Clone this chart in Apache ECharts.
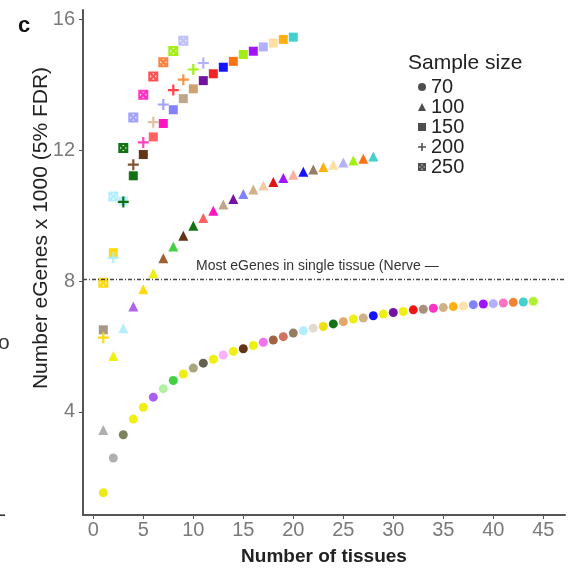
<!DOCTYPE html>
<html><head><meta charset="utf-8">
<script src="https://cdn.jsdelivr.net/npm/echarts@6/dist/echarts.min.js"></script>
<style>html,body{margin:0;padding:0;background:#fff}#c{width:572px;height:572px}</style>
</head><body><div id="c"></div>
<script>
const sampleSizes = ['70', '100', '150', '200', '250'];
const xTicks = [0, 5, 10, 15, 20, 25, 30, 35, 40, 45];
const yTicks = [4, 8, 12, 16];

// eGenes (x1000) by number of tissues, one array per sample size
const y70 = [1.53,2.59,3.30,3.78,4.14,4.45,4.71,4.96,5.16,5.34,5.49,5.61,5.74,5.85,5.93,6.03,6.13,6.20,6.30,6.41,6.48,6.56,6.61,6.69,6.76,6.84,6.87,6.94,6.99,7.04,7.07,7.12,7.14,7.17,7.19,7.22,7.24,7.28,7.30,7.31,7.33,7.35,7.36,7.38];
const y100 = [3.45,5.71,6.56,7.22,7.75,8.24,8.70,9.06,9.39,9.69,9.93,10.15,10.34,10.51,10.66,10.80,10.92,11.03,11.15,11.25,11.34,11.41,11.49,11.56,11.63,11.69,11.74,11.81];
const y150 = [6.51,8.87,10.45,11.22,11.87,12.41,12.82,13.24,13.58,13.88,14.13,14.34,14.54,14.72,14.93,15.03,15.16,15.28,15.39,15.46];
const y200 = [6.27,8.71,10.42,11.56,12.24,12.86,13.40,13.84,14.16,14.47,14.67];
const y250 = [7.95,10.59,12.07,13.00,13.70,14.26,14.69,15.04,15.35];

// tissue colours of each point
const c70 = ['#E8E800','#A8A8A8','#707850','#EEEE00','#EEEE00','#A050F0','#AAF099','#33CC33','#EEEE00','#A0A070','#555540','#EEEE00','#FFAAFF','#EEEE00','#552200','#EEEE00','#EE66EE','#995533','#CC6655','#8B7355','#AAEEFF','#E0D8CC','#EEDD00','#006600','#E0A060','#EEEE00','#CDAA7D','#0000FF','#EEEE00','#660099','#EEEE00','#EE0000','#A08870','#FF22BB','#CDAA7D','#FFAA00','#FFE0A0','#7777FF','#9900FF','#AAAAFF','#FF66BB','#EE7722','#33CCCC','#AAEE22'];
const c100 = ['#A8A8A8','#EEEE00','#AAEEFF','#AA55EE','#FFD700','#EEEE00','#995522','#33CC33','#552200','#006600','#FF5555','#FF00BB','#B8A080','#660099','#7777FF','#CDAA7D','#F0C8A0','#DD0000','#9900FF','#FFAA99','#0000FF','#8B7355','#FFAA00','#FFDD99','#AAAAFF','#99EE00','#FF6600','#33CCCC'];
const c150 = ['#A09080','#FFD700','#AAEEFF','#006600','#552200','#FF5555','#FF00BB','#7777FF','#B8A080','#CC9966','#660099','#EE1111','#0000FF','#FF6600','#99EE00','#9900FF','#AAAAFF','#FFDD99','#FFAA00','#33CCCC'];
const c200 = ['#FFD700','#AAEEFF','#006600','#774422','#FF33BB','#DDBB99','#9999FF','#FF3333','#FF8833','#99EE00','#AAAAFF'];
const c250 = ['#FFD700','#AAEEFF','#006600','#9999FF','#FF22BB','#FF4444','#FF7733','#99EE00','#BBBBFF'];

const nerveLine = 8.05;
const nerveLabel = 'Most eGenes in single tissue (Nerve \u2014';

const PLUS = 'path://M4,0H6V4H10V6H6V10H4V6H0V4H4Z';
const XSQ = 'path://M0,0H10V10H0Z M3.7,2L5,3.3L6.3,2Z M8,3.7L6.7,5L8,6.3Z M6.3,8L5,6.7L3.7,8Z M2,6.3L3.3,5L2,3.7Z';
const shapes = ['circle', 'triangle', 'rect', PLUS, XSQ];
const sizes = [9, 10, 9, 11, 10];
const allY = [y70, y100, y150, y200, y250];
const allC = [c70, c100, c150, c200, c250];

const series = sampleSizes.map((s, k) => ({
  name: s,
  type: 'scatter',
  symbol: shapes[k],
  symbolSize: sizes[k],
  itemStyle: { color: '#222' },
  data: allY[k].map((v, i) => ({ value: [i + 1, v], itemStyle: { color: allC[k][i], opacity: 0.92 } })),
  z: 3
}));
series[0].markLine = {
  silent: true,
  symbol: ['none', 'none'],
  label: { show: false },
  lineStyle: { type: [4, 2, 1, 2], color: '#444', width: 1.3 },
  data: [{ yAxis: nerveLine }]
};

const chart = echarts.init(document.getElementById('c'));
chart.setOption({
  backgroundColor: '#fff',
  animation: false,
  grid: { left: 83, right: 7, top: 10, bottom: 57 },
  xAxis: {
    type: 'value', min: -1.03, max: 47.17,
    splitLine: { show: false },
    axisLine: { show: true, onZero: false, lineStyle: { color: '#555', width: 2 } },
    axisTick: { show: true, customValues: xTicks, length: 4, lineStyle: { color: '#555', width: 1 } },
    axisLabel: { customValues: xTicks, fontSize: 20, color: '#7a7a7a', margin: 5, fontFamily: 'Liberation Sans' },
    name: 'Number of tissues', nameLocation: 'middle', nameGap: 32,
    nameTextStyle: { fontSize: 19, fontWeight: 'bold', color: '#222', fontFamily: 'Liberation Sans' }
  },
  yAxis: {
    type: 'value', min: 0.847, max: 16.29,
    splitLine: { show: false },
    axisLine: { show: true, onZero: false, lineStyle: { color: '#555', width: 2 } },
    axisTick: { show: true, customValues: yTicks, length: 4, lineStyle: { color: '#555', width: 1 } },
    axisLabel: { customValues: yTicks, fontSize: 20, color: '#7a7a7a', margin: 8, fontFamily: 'Liberation Sans' }
  },
  legend: {
    orient: 'vertical', left: 413, top: 72,
    itemWidth: 8, itemHeight: 8, itemGap: 0,
    selectedMode: false,
    textStyle: { fontSize: 20, lineHeight: 19, color: '#222', fontFamily: 'Liberation Sans' },
    data: sampleSizes.map((s, k) => ({ name: s, icon: shapes[k] }))
  },
  graphic: [
    { type: 'text', x: 408, y: 63, style: { text: 'Sample size', fontSize: 21, fill: '#222', verticalAlign: 'middle', fontFamily: 'Liberation Sans' } },
    { type: 'text', x: 41, y: 228, rotation: Math.PI / 2, style: { text: 'Number eGenes x 1000 (5% FDR)', fontSize: 21, fill: '#222', align: 'center', verticalAlign: 'middle', fontFamily: 'Liberation Sans' } },
    { type: 'text', x: 18, y: 26, style: { text: 'c', fontSize: 22, fontWeight: 'bold', fill: '#111', verticalAlign: 'middle', fontFamily: 'Liberation Sans' } },
    { type: 'text', x: 196, y: 266, style: { text: nerveLabel, fontSize: 14, fill: '#333', verticalAlign: 'middle', fontFamily: 'Liberation Sans' } },
    { type: 'text', x: -2, y: 343, style: { text: 'o', fontSize: 21, fill: '#333', verticalAlign: 'middle', fontFamily: 'Liberation Sans' } },
    { type: 'text', x: -1, y: 515, style: { text: '-', fontSize: 21, fill: '#333', verticalAlign: 'middle', fontFamily: 'Liberation Sans' } }
  ],
  series: series
});
</script></body></html>
